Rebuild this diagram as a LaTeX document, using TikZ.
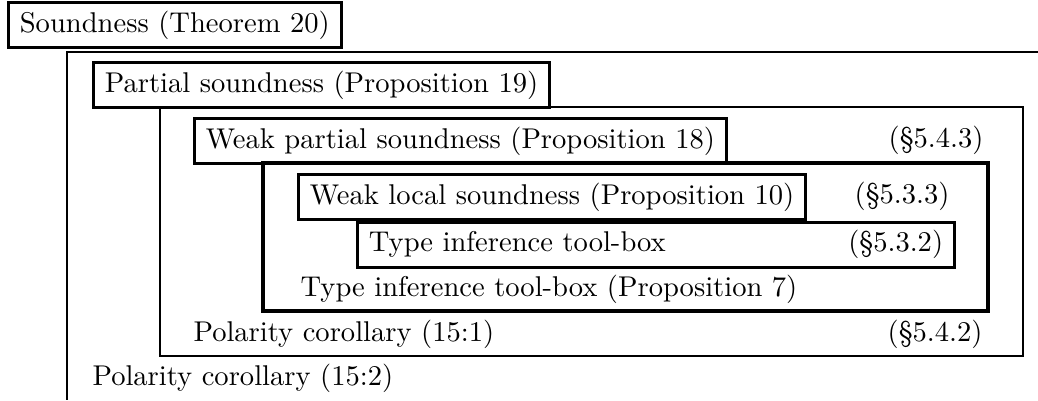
\documentclass[tikz,border=0pt]{standalone}
\usetikzlibrary{calc}
\tikzstyle{labelbox}=[draw,line width=1pt,inner xsep=4pt,inner ysep=0pt,minimum height=15.75pt,anchor=north west]
\tikzstyle{plaintext}=[inner sep=0pt,anchor=west]
\tikzstyle{sectext}=[inner sep=0pt,anchor=east]
\tikzstyle{frameline}=[line width=1pt]
\tikzstyle{thickframe}=[line width=1.4pt]
\begin{document}
\begin{tikzpicture}[x=0.35pt,y=-0.35pt] % one unit = one pixel of the sketch
	\useasboundingbox (0,0) rectangle (1038,400);
	% level 0
	\node[labelbox] (soundness) at (7,1) {Soundness (Theorem 20)};
	\draw[frameline] (1038,52) -- (67,52) -- (67,400);
	\node[plaintext] (polartwo) at (92,378) {Polarity corollary (15:2)};
	% level 1
	\node[labelbox] (partial) at (92,61) {Partial soundness (Proposition 19)};
	\draw[frameline] (160,107) rectangle (1023,356);
	\node[plaintext] (polarone) at (193,334) {Polarity corollary (15:1)};
	\node[sectext] (secpolar) at (983,334) {(\S5.4.2)};
	% level 2
	\node[labelbox] (weakpartial) at (193,117) {Weak partial soundness (Proposition 18)};
	\node[sectext] (secweakpartial) at (984,140) {(\S5.4.3)};
	\draw[thickframe] (263,163) rectangle (988,311);
	% level 3
	\node[labelbox] (weaklocal) at (297,173) {Weak local soundness (Proposition 10)};
	\node[sectext] (secweaklocal) at (950,196) {(\S5.3.3)};
	\node[labelbox] (toolbox) at (weaklocal.south west -| 356,0)
		{\makebox[201pt]{Type inference tool-box\hfill(\S5.3.2)}};
	\node[plaintext] (toolboxprop) at (300,289) {Type inference tool-box (Proposition 7)};
\end{tikzpicture}
\end{document}
